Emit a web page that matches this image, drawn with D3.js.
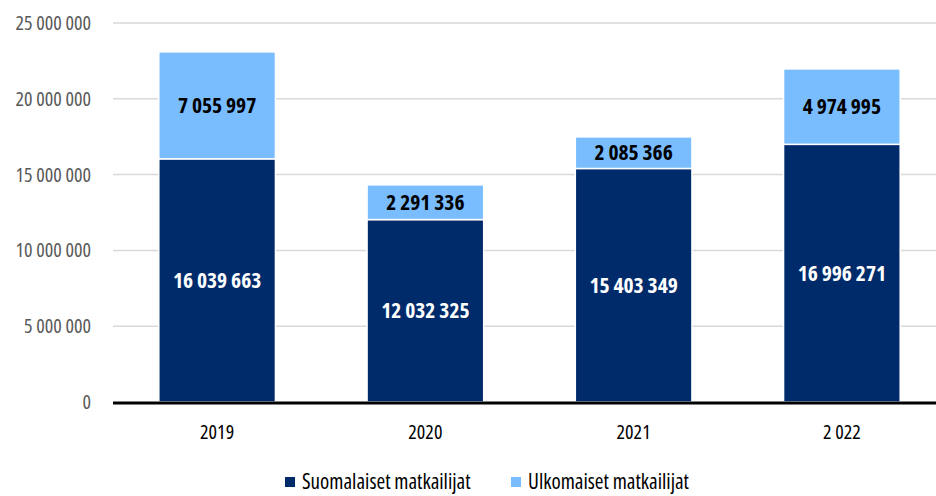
<!DOCTYPE html>
<html>
<head>
<meta charset="utf-8">
<script src="https://cdn.jsdelivr.net/npm/d3@7"></script>
<style>
    html, body { margin: 0; padding: 0; background: #fff; }
    svg text { font-family: "Open Sans", sans-serif; font-stretch: 75%; }
</style>
</head>
<body>
<svg id="chart" width="936" height="496"></svg>
<script>
    "use strict";

    //Chart data
    var years = ["2019", "2020", "2021", "2 022"];
    var finnish = [16039663, 12032325, 15403349, 16996271];
    var foreign = [7055997, 2291336, 2085366, 4974995];
    var seriesNames = ["Suomalaiset matkailijat", "Ulkomaiset matkailijat"];
    var yTicks = [0, 5000000, 10000000, 15000000, 20000000, 25000000];

    var colours = ["#002b6b", "#79bdff"];
    var labelColours = ["#ffffff", "#000000"];

    var svg = d3.select("#chart");

    var x = d3.scaleBand()
        .domain(years)
        .range([113, 946])
        .paddingInner(0.44)
        .paddingOuter(0.22);

    var y = d3.scaleLinear()
        .domain([0, 25000000])
        .range([402, 23]);

    //Spaces as thousand separators
    var fmt = function (v) {
        return d3.format(",")(v).replace(/,/g, " ");
    };

    //Gridlines
    svg.append("g")
        .selectAll("line")
        .data(yTicks.slice(1))
        .enter().append("line")
        .attr("x1", 113)
        .attr("x2", 936)
        .attr("y1", function (d) { return y(d); })
        .attr("y2", function (d) { return y(d); })
        .attr("stroke", "#d9d9d9")
        .attr("stroke-width", 1.5);

    //Y tick labels
    svg.append("g")
        .selectAll("text")
        .data(yTicks)
        .enter().append("text")
        .attr("x", 91)
        .attr("y", function (d) { return y(d); })
        .attr("dy", "0.35em")
        .attr("text-anchor", "end")
        .attr("fill", "#595959")
        .style("font-size", "20px")
        .text(function (d) { return fmt(d); });

    //Stack the two series
    var table = years.map(function (yr, i) {
        return { year: yr, s0: finnish[i], s1: foreign[i] };
    });
    var stacked = d3.stack().keys(["s0", "s1"])(table);

    var groups = svg.append("g")
        .selectAll("g")
        .data(stacked)
        .enter().append("g")
        .attr("fill", function (d, i) { return colours[i]; });

    groups.selectAll("rect")
        .data(function (d) { return d; })
        .enter().append("rect")
        .attr("x", function (d) { return x(d.data.year); })
        .attr("width", x.bandwidth())
        .attr("y", function (d) { return y(d[1]); })
        .attr("height", function (d) { return y(d[0]) - y(d[1]); })
        .attr("stroke", "#ffffff")
        .attr("stroke-width", 1.5);

    //Value labels
    stacked.forEach(function (series, si) {
        svg.append("g")
            .selectAll("text")
            .data(series)
            .enter().append("text")
            .attr("x", function (d) { return x(d.data.year) + x.bandwidth() / 2; })
            .attr("y", function (d) { return (y(d[0]) + y(d[1])) / 2; })
            .attr("dy", "0.35em")
            .attr("text-anchor", "middle")
            .attr("fill", labelColours[si])
            .style("font-size", "21.5px")
            .style("font-weight", "bold")
            .text(function (d) { return fmt(d[1] - d[0]); });
    });

    //Baseline
    svg.append("line")
        .attr("x1", 113)
        .attr("x2", 936)
        .attr("y1", y(0) + 1)
        .attr("y2", y(0) + 1)
        .attr("stroke", "#000")
        .attr("stroke-width", 3);

    //X labels
    svg.append("g")
        .selectAll("text")
        .data(years)
        .enter().append("text")
        .attr("x", function (d) { return x(d) + x.bandwidth() / 2; })
        .attr("y", 432)
        .attr("dy", "0.35em")
        .attr("text-anchor", "middle")
        .attr("fill", "#000")
        .style("font-size", "20px")
        .text(function (d) { return d; });

    //Legend
    var legendX = [285, 511];
    var legend = svg.append("g")
        .selectAll("g")
        .data(seriesNames)
        .enter().append("g")
        .attr("transform", function (d, i) { return "translate(" + legendX[i] + ",482)"; });
    legend.append("rect")
        .attr("x", 0)
        .attr("y", -5)
        .attr("width", 10)
        .attr("height", 10)
        .attr("fill", function (d, i) { return colours[i]; });
    legend.append("text")
        .attr("x", 17)
        .attr("y", 0)
        .attr("dy", "0.35em")
        .attr("fill", "#000")
        .style("font-size", "21px")
        .text(function (d) { return d; });
</script>
</body>
</html>
